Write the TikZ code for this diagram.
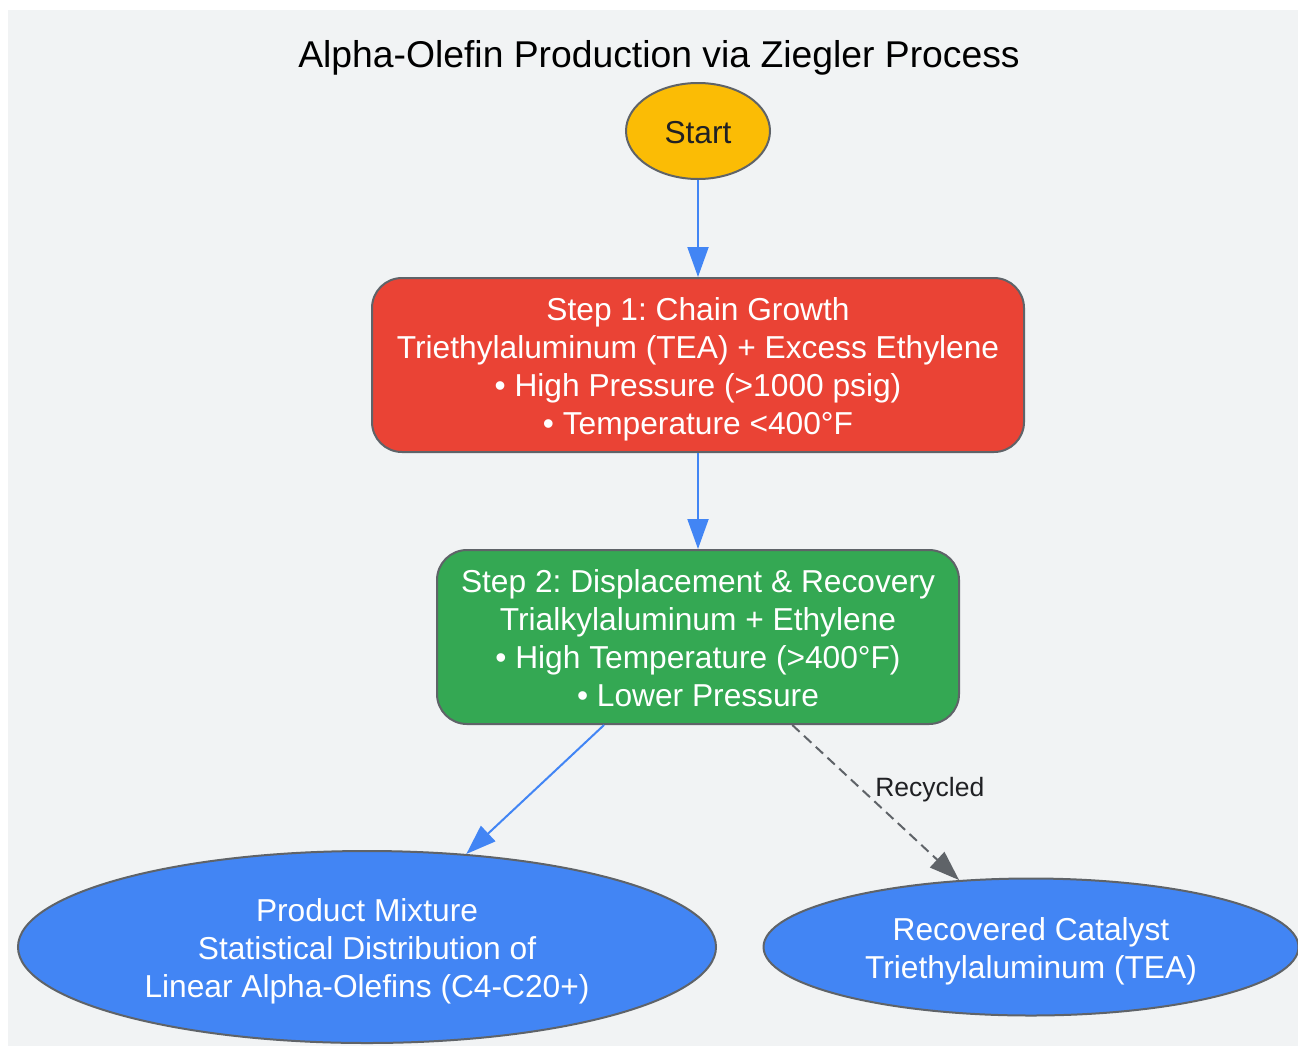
\documentclass[tikz,border=0pt]{standalone}
\usepackage{fontspec}
\setmainfont{Liberation Sans}
\frenchspacing
\usetikzlibrary{arrows.meta,shapes.geometric}
\definecolor{bgc}{HTML}{F1F3F4}
\definecolor{bordc}{HTML}{5F6368}
\definecolor{gyellow}{HTML}{FBBC05}
\definecolor{gred}{HTML}{EA4335}
\definecolor{ggreen}{HTML}{34A853}
\definecolor{gblue}{HTML}{4285F4}
\definecolor{txtdark}{HTML}{202124}
\newcommand{\ls}{\rule[-6.6pt]{0pt}{38pt}}
\tikzset{
  base/.style={draw=bordc, line width=2pt, align=center, inner sep=0pt, font=\fontsize{31.7}{38}\selectfont},
  ell/.style={base, ellipse},
  stepbox/.style={base, rectangle, rounded corners=30pt, text=white},
  flow/.style={draw=gblue, line width=2pt, -{Triangle[length=30pt,width=21pt]}},
  recyc/.style={draw=bordc, line width=2pt, dash pattern=on 10pt off 6pt, -{Triangle[length=30pt,width=21pt]}},
}
\begin{document}
\begin{tikzpicture}[x=1pt,y=-1pt]
\useasboundingbox (0,0) rectangle (1298,1047);
\fill[bgc] (8,10) rectangle (1298,1046);
\node[font=\fontsize{37.3}{40}\selectfont, text=black] (title) at (659,58) {Alpha-Olefin Production via Ziegler Process};
\node[ell, fill=gyellow, text=txtdark, minimum width=144pt, minimum height=96pt] (start) at (698,131) {\ls Start};
\node[stepbox, fill=gred, minimum width=652pt, minimum height=174pt] (s1) at (698,365) {\ls Step 1: Chain Growth\\\ls Triethylaluminum (TEA) + Excess Ethylene\\\ls • High Pressure (>1000 psig)\\\ls • Temperature <400°F};
\node[stepbox, fill=ggreen, minimum width=522pt, minimum height=174pt] (s2) at (698,637) {\ls Step 2: Displacement \& Recovery\\\ls Trialkylaluminum + Ethylene\\\ls • High Temperature (>400°F)\\\ls • Lower Pressure};
\node[ell, fill=gblue, text=white, minimum width=698pt, minimum height=192pt] (prod) at (367,947) {\ls Product Mixture\\\ls Statistical Distribution of\\\ls Linear Alpha-Olefins (C4-C20+)};
\node[ell, fill=gblue, text=white, minimum width=535pt, minimum height=137pt] (rec) at (1031,947) {\ls Recovered Catalyst\\\ls Triethylaluminum (TEA)};
\draw[flow] (start) -- (s1);
\draw[flow] (s1) -- (s2);
\draw[flow] (s2) -- (prod);
\draw[recyc] (s2) -- node[pos=0.42, anchor=west, xshift=10pt, text=txtdark, font=\fontsize{26.5}{28}\selectfont, inner sep=2pt] (lbl) {Recycled} (rec);
\end{tikzpicture}
\end{document}
